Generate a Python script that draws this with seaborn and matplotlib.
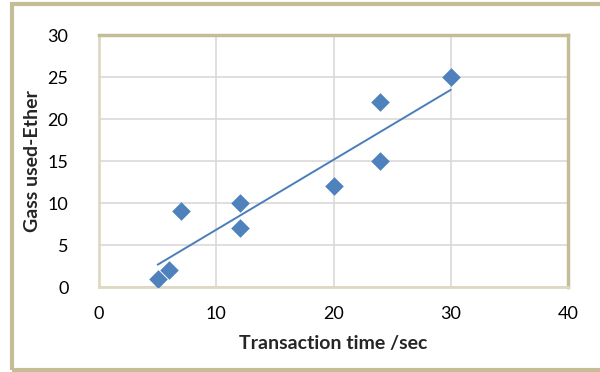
import numpy as np
import pandas as pd
import matplotlib
matplotlib.use("Agg")
import matplotlib.pyplot as plt
import seaborn as sns
from matplotlib.patches import Rectangle

# Data
transaction_time = [5, 6, 7, 12, 12, 20, 24, 24, 30]
gas_used = [1, 2, 9, 10, 7, 12, 22, 15, 25]

df = pd.DataFrame({"time": transaction_time, "gas": gas_used})

sns.set_style("white")
plt.rcParams['font.family'] = ['Lato', 'DejaVu Sans']

fig = plt.figure(figsize=(6, 3.72), dpi=100)
W, H = 600, 372
ax = fig.add_axes([99 / W, 1 - 287 / H, (568 - 99) / W, (287 - 35) / H])

blue = "#4F81BD"
sns.scatterplot(data=df, x="time", y="gas", marker="D", s=90, color=blue,
                edgecolor=blue, linewidth=0, ax=ax, zorder=3)

# linear trendline, as in the original
coef = np.polyfit(df["time"], df["gas"], 1)
xs = np.array([df["time"].min(), df["time"].max()])
sns.lineplot(x=xs, y=np.polyval(coef, xs), color="#4A7EBB", linewidth=1.4, ax=ax, zorder=2)

ax.set_xlim(0, 40)
ax.set_ylim(0, 30)
ax.set_xticks(range(0, 41, 10))
ax.set_yticks(range(0, 31, 5))
ax.grid(True, color="#D9D9D9", linewidth=1.2)
ax.set_axisbelow(True)
ax.tick_params(axis="both", length=0, labelsize=13, colors="#000000")
ax.tick_params(axis="x", pad=14)
ax.tick_params(axis="y", pad=22)

for side in ["top", "right"]:
    ax.spines[side].set_color("#C4BD97")
    ax.spines[side].set_linewidth(2.5)
for side in ["left", "bottom"]:
    ax.spines[side].set_color("#DDD9C3")
    ax.spines[side].set_linewidth(2)

ax.set_xlabel("Transaction time /sec", fontsize=14, fontweight="bold", labelpad=9)
ax.set_ylabel("Gass used-Ether", fontsize=14, fontweight="bold", labelpad=5)

# outer chart frame
fig.patches.append(Rectangle((12 / W, 2 / H), 1.02, 1 - 6 / H, transform=fig.transFigure,
                             fill=False, edgecolor="#C4BD97", linewidth=3))

fig.savefig("out.png", dpi=100)
